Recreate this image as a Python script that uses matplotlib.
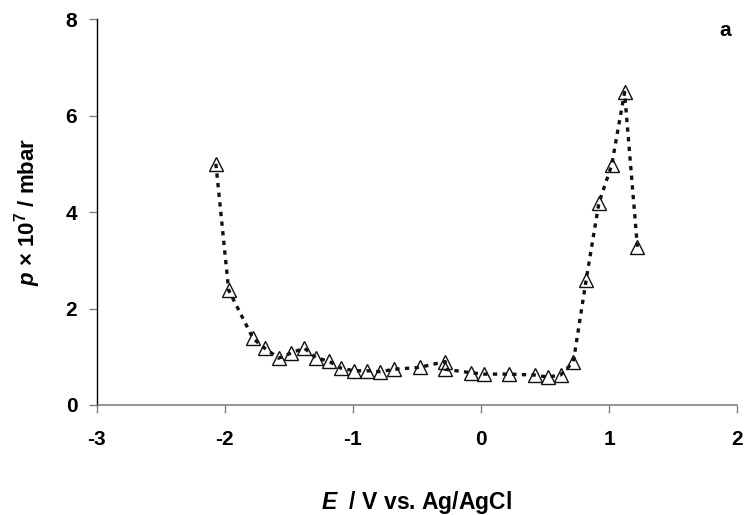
import matplotlib
matplotlib.use("Agg")
import matplotlib.pyplot as plt

plt.rcParams['font.family'] = ['Liberation Sans', 'DejaVu Sans']
plt.rcParams['font.weight'] = 'bold'
plt.rcParams['mathtext.fontset'] = 'custom'
plt.rcParams['mathtext.rm'] = 'Liberation Sans:bold'
plt.rcParams['mathtext.it'] = 'Liberation Sans:italic:bold'
plt.rcParams['mathtext.bf'] = 'Liberation Sans:bold'

# potential (V vs Ag/AgCl) and pressure (x 1e-7 mbar)
E = [-2.07, -1.97, -1.78, -1.69, -1.58, -1.48, -1.38, -1.29, -1.19, -1.09,
     -0.99, -0.89, -0.79, -0.68, -0.48, -0.28, -0.28, -0.08, 0.02, 0.22,
     0.42, 0.52, 0.62, 0.72, 0.82, 0.92, 1.02, 1.12, 1.22]
p = [5.0, 2.38, 1.38, 1.18, 0.97, 1.08, 1.18, 0.98, 0.91, 0.76,
     0.71, 0.71, 0.69, 0.74, 0.78, 0.90, 0.74, 0.67, 0.64, 0.64,
     0.62, 0.58, 0.62, 0.89, 2.59, 4.19, 4.98, 6.48, 3.28]

xticks = [-3, -2, -1, 0, 1, 2]
yticks = [0, 2, 4, 6, 8]

fig = plt.figure(figsize=(7.44, 5.15), dpi=100)
ax = fig.add_axes([0.130, 0.2136, 0.861, 0.7494])

ax.plot(E, p, linestyle=(0, (1.3, 1.6)), color='#111111', linewidth=2.4,
        marker='^', markersize=10, markerfacecolor='none',
        markeredgecolor='#111111', markeredgewidth=1.0)

ax.set_xlim(-3, 2)
ax.set_ylim(0, 8)
ax.set_xticks(xticks)
ax.set_yticks(yticks)
ax.set_xticklabels([str(t) for t in xticks])
ax.set_yticklabels([str(t) for t in yticks])

for s in ['top', 'right']:
    ax.spines[s].set_visible(False)
ax.spines['left'].set_color('black')
ax.spines['bottom'].set_color('#808080')
ax.spines['left'].set_linewidth(1.0)
ax.spines['bottom'].set_linewidth(1.2)
ax.tick_params(axis='both', direction='out', length=6, width=1.0,
               color='#808080', labelsize=15, pad=8)
ax.tick_params(axis='x', pad=12)

ax.set_xlabel(r'$\mathit{E}$  / V vs. Ag/AgCl', fontsize=16.5, fontweight='bold', labelpad=29)
ax.set_ylabel(r'$\mathit{p}$ × 10$^{7}$ / mbar', fontsize=16, fontweight='bold', labelpad=16)

ax.text(0.99, 0.97, 'a', transform=ax.transAxes, fontsize=15, fontweight='bold',
        ha='right', va='center')

fig.savefig('out.png', dpi=100)
